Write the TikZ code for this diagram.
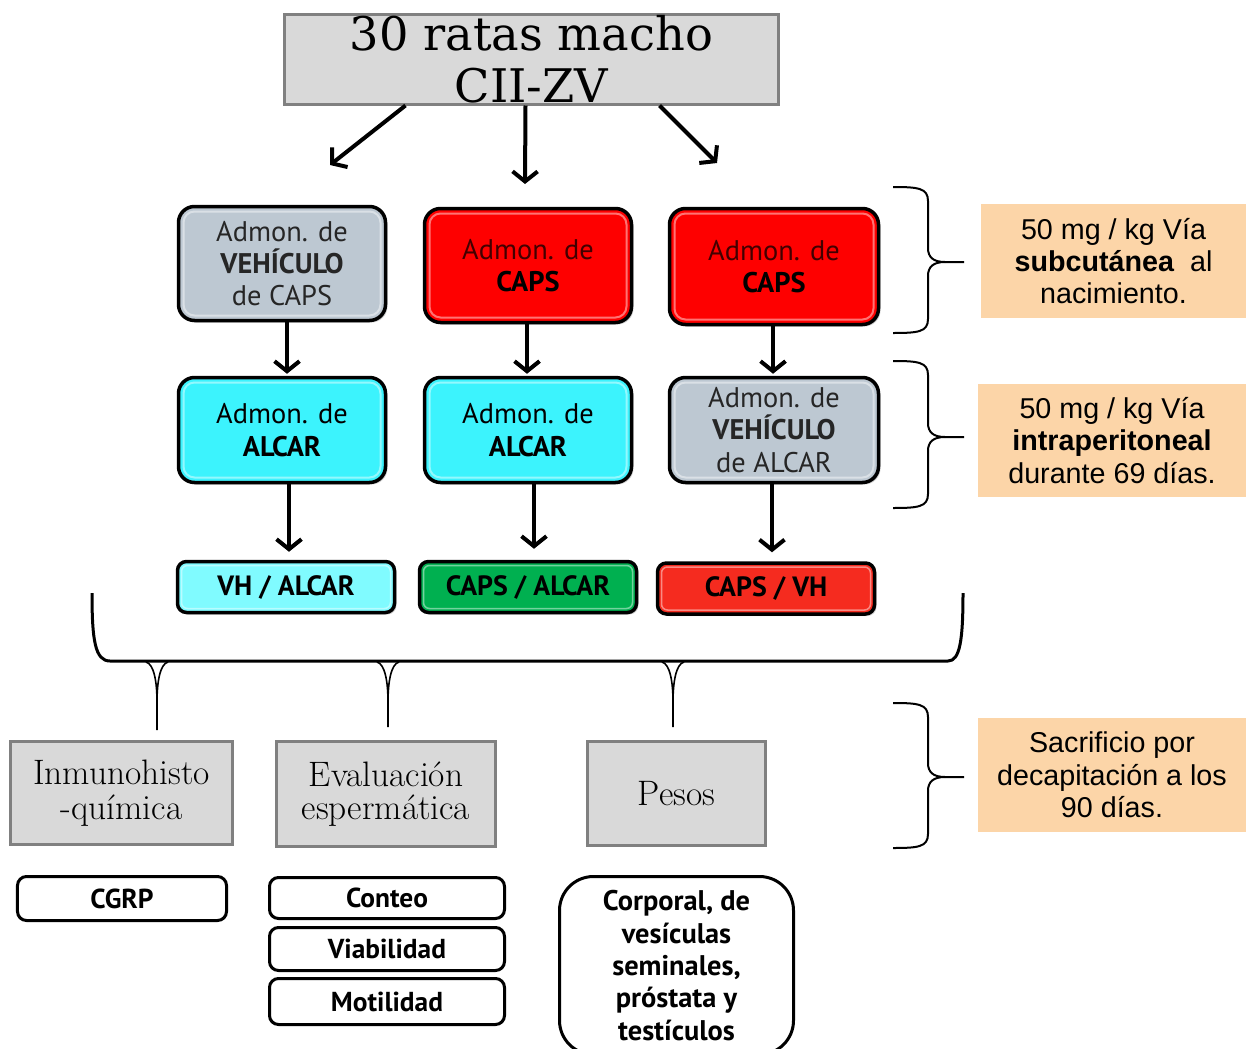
\documentclass[tikz,border=0pt]{standalone}
\usepackage{fontspec}
\newfontfamily\ptsans{PT Sans}
\newfontfamily\arialf{Liberation Sans}
\newfontfamily\dvserif{DejaVu Serif}
\usetikzlibrary{arrows.meta,shadows}
\definecolor{vehgray}{HTML}{BDC8D2}
\definecolor{capsred}{HTML}{FE0000}
\definecolor{dkred}{HTML}{420000}
\definecolor{alcyan}{HTML}{3CF3FD}
\definecolor{ltcyan}{HTML}{80FBFF}
\definecolor{grn}{HTML}{00B050}
\definecolor{vhred}{HTML}{F52B1F}
\definecolor{peach}{HTML}{FCD5A8}
\definecolor{boxgray}{HTML}{D9D9D9}
\definecolor{bordgray}{HTML}{808080}
\tikzset{
  colbox/.style={draw=black, line width=3.5bp, rounded corners=16bp, align=center,
    inner sep=0pt, font=\ptsans\fontsize{28.5}{32.5}\selectfont,
    drop shadow={opacity=0.35, shadow xshift=2bp, shadow yshift=-2bp},
    path picture={\draw[white,opacity=0.45,line width=2bp,rounded corners=11bp]
      ([shift={(5bp,-5bp)}]path picture bounding box.north west) rectangle
      ([shift={(-5bp,5bp)}]path picture bounding box.south east);}},
  resbox/.style={colbox, rounded corners=9bp, font=\ptsans\bfseries\fontsize{28}{30}\selectfont,
    path picture={\draw[white,opacity=0.45,line width=1.5bp,rounded corners=6bp]
      ([shift={(4bp,-4bp)}]path picture bounding box.north west) rectangle
      ([shift={(-4bp,4bp)}]path picture bounding box.south east);}},
  graybox/.style={draw=bordgray, fill=boxgray, line width=3bp, align=center, inner sep=0pt,
    font=\fontsize{35.5}{35}\selectfont},
  notebox/.style={fill=peach, align=center, inner sep=0pt,
    font=\arialf\fontsize{28.8}{32.5}\selectfont},
  smallbox/.style={draw=black, fill=white, line width=3bp, rounded corners=9bp, align=center,
    inner sep=0pt, font=\ptsans\bfseries\fontsize{27.5}{32.5}\selectfont},
  arr/.style={line width=4bp, -{Straight Barb[length=10bp,width=25bp]}},
  brace/.style={line width=2bp},
}
\begin{document}
\begin{tikzpicture}[x=1bp,y=-1bp]
\useasboundingbox (0,0) rectangle (1246,1049);
\clip (0,0) rectangle (1246,1049);

% top box
\node[graybox, minimum width=493bp, minimum height=90bp, font=\dvserif\fontsize{46.5}{52}\selectfont]
  (top) at (531.5,59) {30 ratas macho\\CII-ZV};

% row 1
\node[colbox, fill=vehgray, minimum width=207bp, minimum height=114bp, text=black!85]
  (b1) at (282,263.5) {Admon. de\\\textbf{VEHÍCULO}\\de CAPS};
\node[colbox, fill=capsred, minimum width=207bp, minimum height=114bp]
  (b2) at (528,265.5) {\textcolor{dkred}{Admon. de}\\\textbf{CAPS}};
\node[colbox, fill=capsred, minimum width=209bp, minimum height=116bp]
  (b3) at (774,266.5) {\textcolor{dkred}{Admon. de}\\\textbf{CAPS}};

% row 2
\node[colbox, fill=alcyan, minimum width=207bp, minimum height=105bp]
  (b4) at (282,430) {Admon. de\\\textbf{ALCAR}};
\node[colbox, fill=alcyan, minimum width=207bp, minimum height=105bp]
  (b5) at (528,430) {Admon. de\\\textbf{ALCAR}};
\node[colbox, fill=vehgray, minimum width=209bp, minimum height=105bp, text=black!85]
  (b6) at (774,430) {Admon. de\\\textbf{VEHÍCULO}\\de ALCAR};

% row 3
\node[resbox, fill=ltcyan, minimum width=217bp, minimum height=51bp]
  (b7) at (286,587) {VH / ALCAR};
\node[resbox, fill=grn, minimum width=217bp, minimum height=51bp]
  (b8) at (528,587) {CAPS / ALCAR};
\node[resbox, fill=vhred, minimum width=217bp, minimum height=51bp]
  (b9) at (766,588.5) {CAPS / VH};

% arrows from top
\coordinate (t1e) at (330,165);
\coordinate (t2e) at (525,184);
\coordinate (t3e) at (717,163);
\draw[arr] ([xshift=-126bp]top.south) -- (t1e);
\draw[arr] ([xshift=-6bp]top.south) -- (t2e);
\draw[arr] ([xshift=128bp]top.south) -- (t3e);

% arrows row1 -> row2
\draw[arr, shorten >=2bp] ([xshift=5bp]b1.south) -- ([xshift=5bp]b1.south |- b4.north);
\draw[arr, shorten >=2bp] ([xshift=-1bp]b2.south) -- ([xshift=-1bp]b2.south |- b5.north);
\draw[arr, shorten >=2bp] ([xshift=-1bp]b3.south) -- ([xshift=-1bp]b3.south |- b6.north);
% arrows row2 -> row3
\draw[arr, shorten >=8bp] ([xshift=7bp]b4.south) -- ([xshift=7bp]b4.south |- b7.north);
\draw[arr, shorten >=11bp] ([xshift=6bp]b5.south) -- ([xshift=6bp]b5.south |- b8.north);
\draw[arr, shorten >=9bp] ([xshift=-2bp]b6.south) -- ([xshift=-2bp]b6.south |- b9.north);

% big brace
\draw[line width=3bp] (92,593) .. controls (92,640) and (95,661) .. (110,661) -- (948,661)
  .. controls (960,661) and (963,640) .. (963,593);
\foreach \cx/\cy in {157/730, 388/727, 673/727} {
  \draw[line width=1.6bp] (\cx-11,662) .. controls (\cx-3,664) and (\cx,682) .. (\cx,702) -- (\cx,\cy);
  \draw[line width=1.6bp] (\cx+11,662) .. controls (\cx+3,664) and (\cx,682) .. (\cx,702);
}

% bottom gray boxes
\node[graybox, minimum width=222bp, minimum height=103bp] (g1) at (121.5,793) {Inmunohisto\\-química};
\node[graybox, minimum width=219bp, minimum height=105bp, font=\fontsize{35.5}{33}\selectfont] (g2) at (386,794) {Evaluación\\espermática};
\node[graybox, minimum width=178bp, minimum height=104bp] (g3) at (676.5,793.5) {Pesos};

% small boxes
\node[smallbox, minimum width=209bp, minimum height=44bp] (s1) at (122,898.5) {CGRP};
\node[smallbox, minimum width=235bp, minimum height=41bp] (s2) at (387,898) {Conteo};
\node[smallbox, minimum width=235bp, minimum height=43bp] (s3) at (387,949) {Viabilidad};
\node[smallbox, minimum width=235bp, minimum height=46bp] (s4) at (387,1001.5) {Motilidad};
\node[smallbox, minimum width=234bp, minimum height=178bp, rounded corners=34bp,
  font=\ptsans\bfseries\fontsize{28.5}{32.5}\selectfont] (s5) at (676.5,965.5)
  {Corporal, de\\vesículas\\seminales,\\próstata y\\testículos};

% right braces
\foreach \ya/\ym/\yb in {187/262/333, 361/437/508, 703/777/848} {
  \draw[brace] (893,\ya) .. controls (918,\ya) and (928,\ya+1) .. (928,\ya+14) -- (928,\ym-14)
    .. controls (928,\ym-5) and (933,\ym) .. (945,\ym) -- (964,\ym);
  \draw[brace] (893,\yb) .. controls (918,\yb) and (928,\yb-1) .. (928,\yb-14) -- (928,\ym+14)
    .. controls (928,\ym+5) and (933,\ym) .. (945,\ym);
}

% notes
\node[notebox, minimum width=265bp, minimum height=114bp] (o1) at (1113.5,261)
  {50 mg / kg Vía\\\textbf{subcutánea}\ \ al\\nacimiento.};
\node[notebox, minimum width=268bp, minimum height=113bp] (o2) at (1112,440.5)
  {50 mg / kg Vía\\\textbf{intraperitoneal}\\durante 69 días.};
\node[notebox, minimum width=268bp, minimum height=114bp] (o3) at (1112,775)
  {Sacrificio por\\decapitación a los\\90 días.};
\end{tikzpicture}
\end{document}
